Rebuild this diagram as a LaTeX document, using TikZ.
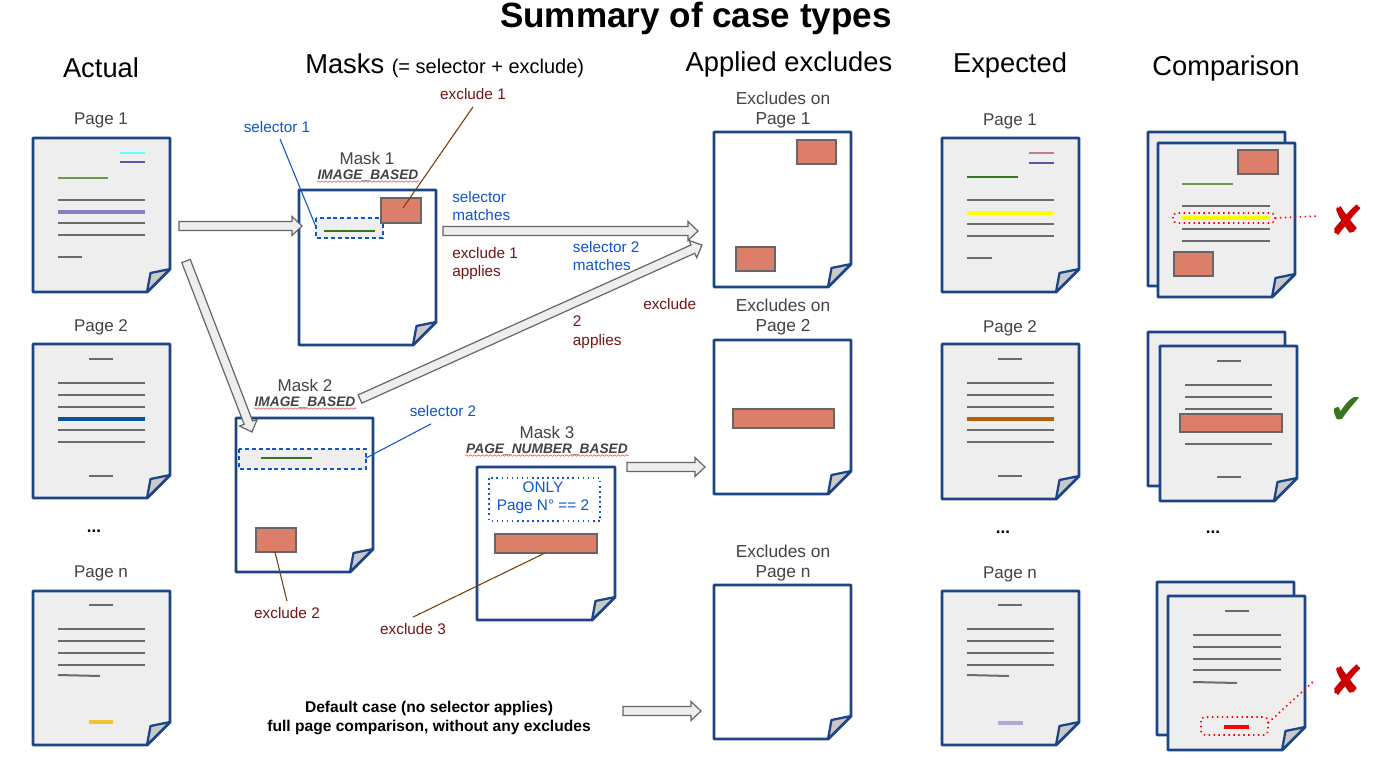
\documentclass[tikz,border=0pt]{standalone}
\usepackage{fontspec}
\setmainfont{Liberation Sans}
\newfontfamily\symfont{DejaVu Sans}
\usetikzlibrary{calc,decorations.pathmorphing}
\definecolor{pgblue}{HTML}{1C4587}
\definecolor{pgfill}{HTML}{EEEEEE}
\definecolor{foldgray}{HTML}{C9C9C9}
\definecolor{exfill}{HTML}{DD7E6B}
\definecolor{txtblue}{HTML}{1155CC}
\definecolor{txtred}{HTML}{741414}
\definecolor{leadbrown}{HTML}{783F04}
\definecolor{lgray}{HTML}{6B6B6B}
\definecolor{labgray}{HTML}{434343}
\definecolor{cyanc}{HTML}{5FFFFF}
\definecolor{purpd}{HTML}{674EA7}
\definecolor{purpl}{HTML}{8E7CC3}
\definecolor{greenl}{HTML}{6A9A4F}
\definecolor{greend}{HTML}{38761D}
\definecolor{pinkc}{HTML}{C27BA0}
\definecolor{yellowc}{HTML}{FFFF00}
\definecolor{bluel}{HTML}{0B5394}
\definecolor{orangec}{HTML}{B45F06}
\definecolor{goldc}{HTML}{F1C232}
\definecolor{lavc}{HTML}{B4A7D6}
\definecolor{xred}{HTML}{CC0000}
\definecolor{checkg}{HTML}{38761D}
\definecolor{arrfill}{HTML}{EEEEEE}
\definecolor{arrdraw}{HTML}{666666}
\definecolor{wavyred}{HTML}{E06666}
\tikzset{
  pageborder/.style={draw=pgblue, line width=2.2pt, line join=round},
  tl/.style={draw=lgray, line width=1.5pt},
  thk/.style={line width=2.7pt},
  exrect/.style={fill=exfill, draw=arrdraw, line width=1pt},
  selbox/.style={draw=txtblue, fill=pgfill, line width=1.1pt, dash pattern=on 3pt off 2.2pt},
  barrow/.style={draw=arrdraw, fill=arrfill, line width=0.9pt, line join=miter},
  hdr/.style={font=\fontsize{20.5}{24}\selectfont, inner sep=0pt},
  pglbl/.style={font=\fontsize{12.75}{15}\selectfont, text=labgray, inner sep=0pt, align=center},
  typelbl/.style={font=\fontsize{10.3}{12}\selectfont\bfseries\itshape, text=labgray, inner sep=0.5pt},
  bluetxt/.style={font=\fontsize{11.5}{14.2}\selectfont, text=txtblue, inner sep=0pt, align=left},
  redtxt/.style={font=\fontsize{11.5}{14.2}\selectfont, text=txtred, inner sep=0pt, align=left},
  bluelead/.style={draw=txtblue, line width=0.8pt},
  brownlead/.style={draw=leadbrown, line width=0.8pt},
  wavy/.style={draw=wavyred, line width=0.5pt, decorate, decoration={snake, amplitude=0.55pt, segment length=3pt}},
  reddots/.style={draw=red, line width=1.2pt, dash pattern=on 1.1pt off 2.6pt, rounded corners=3pt},
  dotsnode/.style={font=\fontsize{12.75}{15}\selectfont\bfseries, inner sep=0pt},
  resmark/.style={font=\symfont\fontsize{31}{34}\selectfont, inner sep=0pt},
}
% #1 fill, #2 x, #3 y, #4 width, #5 height, #6 contents (local coordinates)
\newcommand\docpage[6]{%
  \begin{scope}[shift={(#2,#3)}]
    \draw[pageborder, fill=#1] (0,0) -- (#4,0) -- (#4,#5-23) -- (#4-23,#5) -- (0,#5) -- cycle;
    #6
    \draw[pageborder, fill=foldgray, line width=1.7pt] (#4-23,#5) -- (#4-19.5,#5-19) -- (#4,#5-23) -- cycle;
  \end{scope}}
% #1 name, #2 from, #3 to
\newcommand\blockarrow[3]{%
  \coordinate (#1-h) at ($(#3)!7.5pt!(#2)$);
  \draw[barrow] ($(#2)!3.4pt!90:(#3)$) -- ($(#1-h)!3.4pt!-90:(#2)$) -- ($(#1-h)!7.1pt!-90:(#2)$) -- (#3)
    -- ($(#1-h)!7.1pt!90:(#2)$) -- ($(#1-h)!3.4pt!90:(#2)$) -- ($(#2)!3.4pt!-90:(#3)$) -- cycle;}
\begin{document}
\begin{tikzpicture}[x=0.75pt,y=-0.75pt]
\useasboundingbox (0,0) rectangle (1390,776);
\fill[white] (0,0) rectangle (1390,776);

% ---------- titles ----------
\node[font=\fontsize{26.3}{30}\selectfont\bfseries, inner sep=0pt] (title) at (696,18) {Summary of case types};
\node[hdr] (hActual) at (101,68) {Actual};
\node[hdr, anchor=west] (hMasks) at (305,66) {Masks {\fontsize{15}{18}\selectfont (= selector + exclude)}};
\node[hdr] (hApplied) at (789,64) {Applied excludes};
\node[hdr] (hExpected) at (1010,65) {Expected};
\node[hdr] (hComp) at (1226,68) {Comparison};

% ---------- Actual column ----------
\node[pglbl] (aP1) at (101,120) {Page 1};
\docpage{pgfill}{33}{138}{137}{154}{
  \draw[cyanc, line width=1.5pt] (87,15) -- (112,15);
  \draw[purpd, line width=1.1pt] (87,24) -- (112,24);
  \draw[greenl, line width=1.5pt] (25,40) -- (75,40);
  \draw[tl] (25,62) -- (112,62);
  \draw[purpl, thk] (25,74) -- (112,74);
  \draw[tl] (25,85) -- (112,85);
  \draw[tl] (25,97) -- (112,97);
  \draw[tl] (25,119) -- (49,119);
}
\node[pglbl] (aP2) at (101,327) {Page 2};
\docpage{pgfill}{33}{344}{137}{154}{
  \draw[tl] (56,15) -- (80,15);
  \draw[tl] (25,39) -- (112,39);
  \draw[tl] (25,51) -- (112,51);
  \draw[tl] (25,63) -- (112,63);
  \draw[bluel, thk] (25,75) -- (112,75);
  \draw[tl] (25,86) -- (112,86);
  \draw[tl] (25,98) -- (112,98);
  \draw[tl] (56,132) -- (80,132);
}
\node[dotsnode] (aDots) at (94,531) {...};
\node[pglbl] (aPn) at (101,573) {Page n};
\docpage{pgfill}{33}{591}{137}{154}{
  \draw[tl] (56,14) -- (80,14);
  \draw[tl] (25,38) -- (112,38);
  \draw[tl] (25,50) -- (112,50);
  \draw[tl] (25,62) -- (112,62);
  \draw[tl] (25,74) -- (112,74);
  \draw[tl] (25,84) -- (67,85);
  \draw[goldc, line width=3pt] (56,131) -- (80,131);
}

% ---------- Masks ----------
\node[pglbl] (m1) at (367,158) {Mask 1};
\node[typelbl] (m1t) at (368,176) {IMAGE\_BASED};
\draw[wavy] ($(m1t.south west)+(0,-1)$) -- ($(m1t.south east)+(0,-1)$);
\docpage{white}{299}{190}{137}{155}{
  \draw[selbox] (17,28) rectangle (84,48);
  \draw[greend, line width=1.3pt] (25,41) -- (76,41);
  \draw[exrect] (82,8) rectangle (122,33);
}
\node[pglbl] (m2) at (305,385) {Mask 2};
\node[typelbl] (m2t) at (305,403) {IMAGE\_BASED};
\draw[wavy] ($(m2t.south west)+(0,-1)$) -- ($(m2t.south east)+(0,-1)$);
\docpage{white}{236}{418}{137}{154}{
  \draw[selbox] (3,31) rectangle (130,51);
  \draw[greend, line width=1.3pt] (25,40) -- (76,40);
  \draw[exrect] (20,110) rectangle (60,134);
}
\node[pglbl] (m3) at (547,432) {Mask 3};
\node[typelbl] (m3t) at (547,450) {PAGE\_NUMBER\_BASED};
\draw[wavy] ($(m3t.south west)+(0,-1)$) -- ($(m3t.south east)+(0,-1)$);
\docpage{white}{477}{467}{138}{153}{
  \draw[draw=txtblue, line width=1.2pt, dash pattern=on 1.2pt off 2.6pt] (12,11) rectangle (123,54);
  \draw[exrect] (18,67) rectangle (120,86);
}
\node[bluetxt, align=center, font=\fontsize{11.5}{13.8}\selectfont] (only) at (543,497.5) {ONLY\\Page N° == 2};

% ---------- mask labels and leaders ----------
\node[bluetxt] (sel1) at (277,127) {selector 1};
\coordinate (sel1end) at (316,227);
\draw[bluelead] ($(sel1.south)+(3,6)$) -- (sel1end);
\node[redtxt] (ex1) at (473,94) {exclude 1};
\coordinate (ex1end) at (403,208);
\draw[brownlead] ($(ex1.south)+(0,7)$) -- (ex1end);
\node[bluetxt] (sel2) at (443,411) {selector 2};
\coordinate (sel2end) at (366,458);
\draw[bluelead] ($(sel2.south)+(-12,7)$) -- (sel2end);
\node[redtxt] (ex2) at (287,613) {exclude 2};
\coordinate (ex2end) at (275,552);
\draw[brownlead] ($(ex2.north)+(0,-6)$) -- (ex2end);
\node[redtxt] (ex3) at (413,629) {exclude 3};
\coordinate (ex3end) at (545,553);
\draw[brownlead] ($(ex3.north)+(0,-6)$) -- (ex3end);

% ---------- block arrows ----------
\coordinate (a1s) at (179,226); \coordinate (a1e) at (302,226);
\blockarrow{a1}{a1s}{a1e}
\coordinate (a2s) at (186,261); \coordinate (a2e) at (252,432);
\blockarrow{a2}{a2s}{a2e}
\coordinate (a3s) at (443,231); \coordinate (a3e) at (698,231);
\blockarrow{a3}{a3s}{a3e}
\coordinate (a4s) at (360,399); \coordinate (a4e) at (702,245);
\blockarrow{a4}{a4s}{a4e}
\coordinate (a5s) at (627,467); \coordinate (a5e) at (705,467);
\blockarrow{a5}{a5s}{a5e}
\coordinate (a6s) at (623,711); \coordinate (a6e) at (701,711);
\blockarrow{a6}{a6s}{a6e}

\node[bluetxt, anchor=west] (selm) at (452,206) {selector\\matches};
\node[redtxt, anchor=west] (ex1a) at (452,263.5) {exclude 1\\applies};
\node[bluetxt, anchor=west] (sel2m) at (572.7,256) {selector 2\\matches};
\node[redtxt, anchor=west] (ex2a) at (643,304) {exclude};
\node[redtxt, anchor=west] (ex2b) at (572.7,332) {2\\applies};
\node[font=\fontsize{11.7}{14}\selectfont\bfseries, align=center, inner sep=0pt] (deflt) at (429,718) {Default case (no selector applies)\\full page comparison, without any excludes};

% ---------- Applied excludes ----------
\node[pglbl, font=\fontsize{13}{15}\selectfont] (eP1) at (783,110) {Excludes on\\Page 1};
\docpage{white}{714}{132}{137}{155}{
  \draw[exrect] (83,8) rectangle (122,32);
  \draw[exrect] (22,115) rectangle (61,139);
}
\node[pglbl, font=\fontsize{13}{15}\selectfont] (eP2) at (783,317) {Excludes on\\Page 2};
\docpage{white}{714}{340}{137}{154}{
  \draw[exrect] (19,69) rectangle (120,88);
}
\node[pglbl, font=\fontsize{13}{15}\selectfont] (ePn) at (783,563) {Excludes on\\Page n};
\docpage{white}{714}{585}{137}{154}{}

% ---------- Expected ----------
\node[pglbl] (xP1) at (1010,121) {Page 1};
\docpage{pgfill}{942}{138}{137}{154}{
  \draw[pinkc, line width=1.1pt] (87,15) -- (112,15);
  \draw[purpd, line width=1.1pt] (87,25) -- (112,25);
  \draw[greend, line width=1.3pt] (25,39) -- (76,39);
  \draw[tl] (25,62) -- (112,62);
  \draw[yellowc, thk] (25,75) -- (112,75);
  \draw[tl] (25,86) -- (112,86);
  \draw[tl] (25,98) -- (112,98);
  \draw[tl] (25,120) -- (50,120);
}
\node[pglbl] (xP2) at (1010,328) {Page 2};
\docpage{pgfill}{942}{344}{137}{155}{
  \draw[tl] (56,15) -- (80,15);
  \draw[tl] (25,39) -- (112,39);
  \draw[tl] (25,51) -- (112,51);
  \draw[tl] (25,63) -- (112,63);
  \draw[orangec, thk] (25,75) -- (112,75);
  \draw[tl] (25,86) -- (112,86);
  \draw[tl] (25,98) -- (112,98);
  \draw[tl] (56,132) -- (80,132);
}
\node[dotsnode] (xDots) at (1003,532) {...};
\node[pglbl] (xPn) at (1010,574) {Page n};
\docpage{pgfill}{942}{591}{137}{154}{
  \draw[tl] (56,14) -- (80,14);
  \draw[tl] (25,38) -- (112,38);
  \draw[tl] (25,50) -- (112,50);
  \draw[tl] (25,62) -- (112,62);
  \draw[tl] (25,74) -- (112,74);
  \draw[tl] (25,84) -- (67,85);
  \draw[lavc, line width=3pt] (56,132) -- (81,132);
}

% ---------- Comparison ----------
\docpage{pgfill}{1148}{132}{137}{154}{}
\docpage{pgfill}{1158}{143}{137}{154}{
  \draw[exrect] (80,7) rectangle (120,31);
  \draw[greenl, line width=1.5pt] (24,41) -- (75,41);
  \draw[tl] (24,63) -- (112,63);
  \draw[yellowc, thk] (24,75) -- (112,75);
  \draw[tl] (24,86) -- (112,86);
  \draw[tl] (24,98) -- (112,98);
  \draw[exrect] (16,109) rectangle (55,133);
  \draw[reddots] (15,70) rectangle (117,80);
}
\coordinate (c1a) at (1275,218); \coordinate (c1b) at (1318,216);
\draw[reddots] (c1a) -- (c1b);
\node[resmark, text=xred] (cross1) at (1347,220) {✘};

\docpage{pgfill}{1148}{332}{137}{154}{}
\docpage{pgfill}{1160}{346}{137}{155}{
  \draw[tl] (57,15) -- (81,15);
  \draw[tl] (25,39) -- (112,39);
  \draw[tl] (25,51) -- (112,51);
  \draw[tl] (25,63) -- (112,63);
  \draw[exrect] (20,68) rectangle (122,86);
  \draw[tl] (25,98) -- (112,98);
  \draw[tl] (57,131) -- (81,131);
}
\node[resmark, text=checkg] (check2) at (1347,410) {✔};

\node[dotsnode] (cDots) at (1213,532) {...};

\docpage{pgfill}{1157}{582}{137}{153}{}
\docpage{pgfill}{1168}{596}{137}{154}{
  \draw[tl] (57,15) -- (81,15);
  \draw[tl] (25,39) -- (113,39);
  \draw[tl] (25,51) -- (113,51);
  \draw[tl] (25,63) -- (113,63);
  \draw[tl] (25,74) -- (113,74);
  \draw[tl] (25,86) -- (69,87);
  \draw[red, line width=3pt] (56,131) -- (81,131);
  \draw[reddots] (33,121) rectangle (100,139);
}
\coordinate (c3a) at (1268,723); \coordinate (c3b) at (1315,680);
\draw[reddots] (c3a) -- (c3b);
\node[resmark, text=xred] (cross3) at (1347,680) {✘};
\end{tikzpicture}
\end{document}
